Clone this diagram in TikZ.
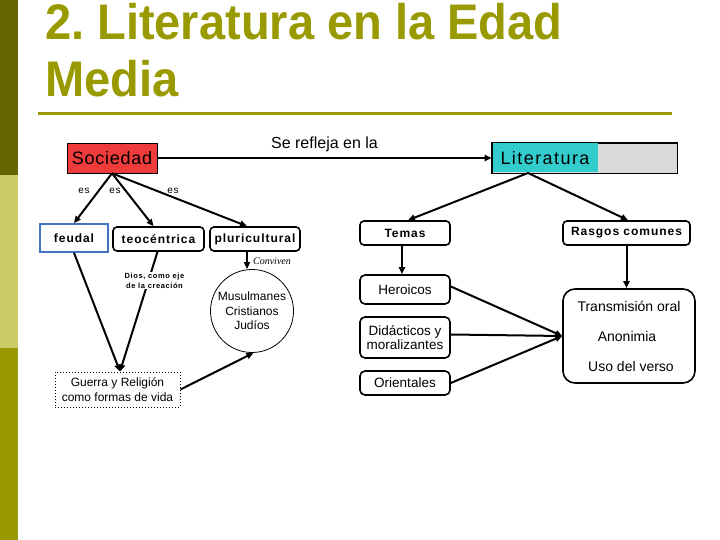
\documentclass[tikz,border=0pt]{standalone}
\usepackage{fontspec}
\usetikzlibrary{arrows.meta,calc}
\setmainfont{Liberation Sans}
\newfontfamily\lib{Liberation Sans}
\newfontfamily\titlef{Liberation Sans}[FakeStretch=0.94]
\newfontfamily\libsp{Liberation Sans}[LetterSpace=8]
\newfontfamily\libsoc{Liberation Sans}[LetterSpace=4]
\newfontfamily\libser{Liberation Serif}
\definecolor{darkolive}{HTML}{666600}
\definecolor{lightolive}{HTML}{CCCC66}
\definecolor{olivec}{HTML}{999900}
\definecolor{socred}{HTML}{EE3B3B}
\definecolor{tealc}{HTML}{33CCCC}
\definecolor{grayc}{HTML}{D9D9D9}
\definecolor{blueb}{HTML}{4472C4}
\tikzset{
  conn/.style={line width=2pt,-{Triangle[length=7pt,width=6pt]}},
  bbox/.style={draw,line width=1.6pt,rounded corners=4pt,inner sep=0pt,align=center,font=\libsp\bfseries\fontsize{12}{14}\selectfont},
  pbox/.style={draw,line width=1.6pt,rounded corners=5pt,inner sep=0pt,align=center,font=\lib\fontsize{13.5}{14}\selectfont},
  lbl/.style={inner sep=0pt,font=\libsp\fontsize{10}{12}\selectfont},
  ttl/.style={anchor=base west,inner sep=0pt,text=olivec,font=\titlef\bfseries\fontsize{50}{58}\selectfont},
}
\begin{document}
\begin{tikzpicture}[x=1pt,y=-1pt]
\useasboundingbox (0,0) rectangle (720,540);
\fill[white] (0,0) rectangle (720,540);
% side bar
\fill[darkolive] (0,0) rectangle (18,175);
\fill[lightolive] (0,175) rectangle (18,348);
\fill[olivec] (0,348) rectangle (18,540);
% title
\node[ttl] (t1) at (45,40) {2.\ Literatura en la Edad};
\node[ttl] (t2) at (45,97) {Media};
\draw[olivec,line width=3pt] (38,114) -- (672,114);

% top nodes
\node[draw,line width=0.6pt,fill=socred,minimum width=90pt,minimum height=30pt,inner sep=0pt,font=\libsoc\fontsize{18}{20}\selectfont] (soc) at (112,158) {Sociedad};
\node[draw,line width=0.6pt,fill=grayc,minimum width=185pt,minimum height=30pt,inner sep=0pt] (lit) at (584.5,158) {};
\node[fill=tealc,minimum width=105pt,minimum height=29pt,inner sep=0pt,font=\libsp\fontsize{18}{20}\selectfont] (littext) at (545,158) {Literatura};
\draw[line width=0.6pt] (lit.north west) rectangle (lit.south east);
\coordinate (litb) at (528,173);

\draw[conn] (soc.east) -- node[above=5pt,font=\lib\fontsize{16}{18}\selectfont,inner sep=0pt] (sref) {Se refleja en la} (lit.west);

% society children
\node[draw=blueb,line width=1.6pt,minimum width=68pt,minimum height=28pt,inner sep=0pt,font=\libsp\bfseries\fontsize{12}{14}\selectfont] (feudal) at (74,238) {feudal};
\node[bbox,minimum width=91pt,minimum height=24pt] (teo) at (158.5,239) {teocéntrica};
\node[bbox,minimum width=90pt,minimum height=24pt] (pluri) at (255,239) {pluricultural};

\draw[conn] (soc.south) -- (feudal.north);
\draw[conn] (soc.south) -- ([xshift=-5pt]teo.north);
\draw[conn] (soc.south) -- ([xshift=-8pt]pluri.north);
\node[lbl] (es1) at (84,191) {es};
\node[lbl] (es2) at (115,191) {es};
\node[lbl] (es3) at (173,191) {es};

% circle
\node[draw,circle,line width=0.8pt,minimum size=83pt,inner sep=0pt,align=center,font=\lib\fontsize{12}{14.5}\selectfont] (circ) at (252,311) {Musulmanes\\Cristianos\\Judíos};
\draw[conn] ([xshift=-5pt]circ.north |- pluri.south) -- ([xshift=-5pt]circ.north);
\node[inner sep=0pt,font=\libser\itshape\fontsize{10}{12}\selectfont] (conv) at (272,261) {Conviven};

% guerra
\node[draw,dotted,line width=1pt,minimum width=125pt,minimum height=35pt,inner sep=0pt,align=center,font=\lib\fontsize{12}{15}\selectfont] (guerra) at (117.5,389.5) {Guerra y Religión\\como formas de vida};
\draw[conn] (feudal.south) -- ([xshift=2.5pt]guerra.north);
\draw[conn] ([xshift=-1pt]teo.south) -- node[pos=0.24,xshift=6pt,fill=white,inner sep=1pt,align=center,font=\libsp\bfseries\fontsize{7.5}{10}\selectfont] (dios) {Dios, como eje\\de la creación} ([xshift=2.5pt]guerra.north);
\draw[conn] (guerra.east) -- (circ.-88);

% literatura children
\node[bbox,minimum width=90pt,minimum height=24pt] (temas) at (405,233) {Temas};
\node[bbox,minimum width=127pt,minimum height=24pt] (rasgos) at (626.5,233) {Rasgos comunes};
\draw[conn] (litb) -- ([xshift=3pt]temas.north);
\draw[conn] (litb) -- ([xshift=1.5pt]rasgos.north);

\node[pbox,minimum width=90pt,minimum height=29pt] (her) at (405,289.5) {Heroicos};
\node[pbox,minimum width=90pt,minimum height=41pt] (did) at (405,337.5) {Didácticos y\\moralizantes};
\node[pbox,minimum width=90pt,minimum height=24pt] (ori) at (405,383) {Orientales};
\draw[conn] ([xshift=-3pt]temas.south) -- ([xshift=-3pt]her.north);

\node[draw,line width=1.6pt,rounded corners=12pt,minimum width=132pt,minimum height=94pt,inner sep=0pt] (rbox) at (629,336) {};
\node[inner sep=0pt,font=\lib\fontsize{14}{16}\selectfont] (r1) at (629,306) {Transmisión oral};
\node[inner sep=0pt,font=\lib\fontsize{14}{16}\selectfont] (r2) at (627,336) {Anonimia};
\node[inner sep=0pt,font=\lib\fontsize{14}{16}\selectfont] (r3) at (631,366) {Uso del verso};
\draw[conn] (rasgos.south) -- (rasgos.south |- rbox.north);

\draw[conn] ([yshift=3pt]her.east) -- (rbox.west);
\draw[conn] ([yshift=3pt]did.east) -- (rbox.west);
\draw[conn] (ori.east) -- (rbox.west);
\end{tikzpicture}
\end{document}
